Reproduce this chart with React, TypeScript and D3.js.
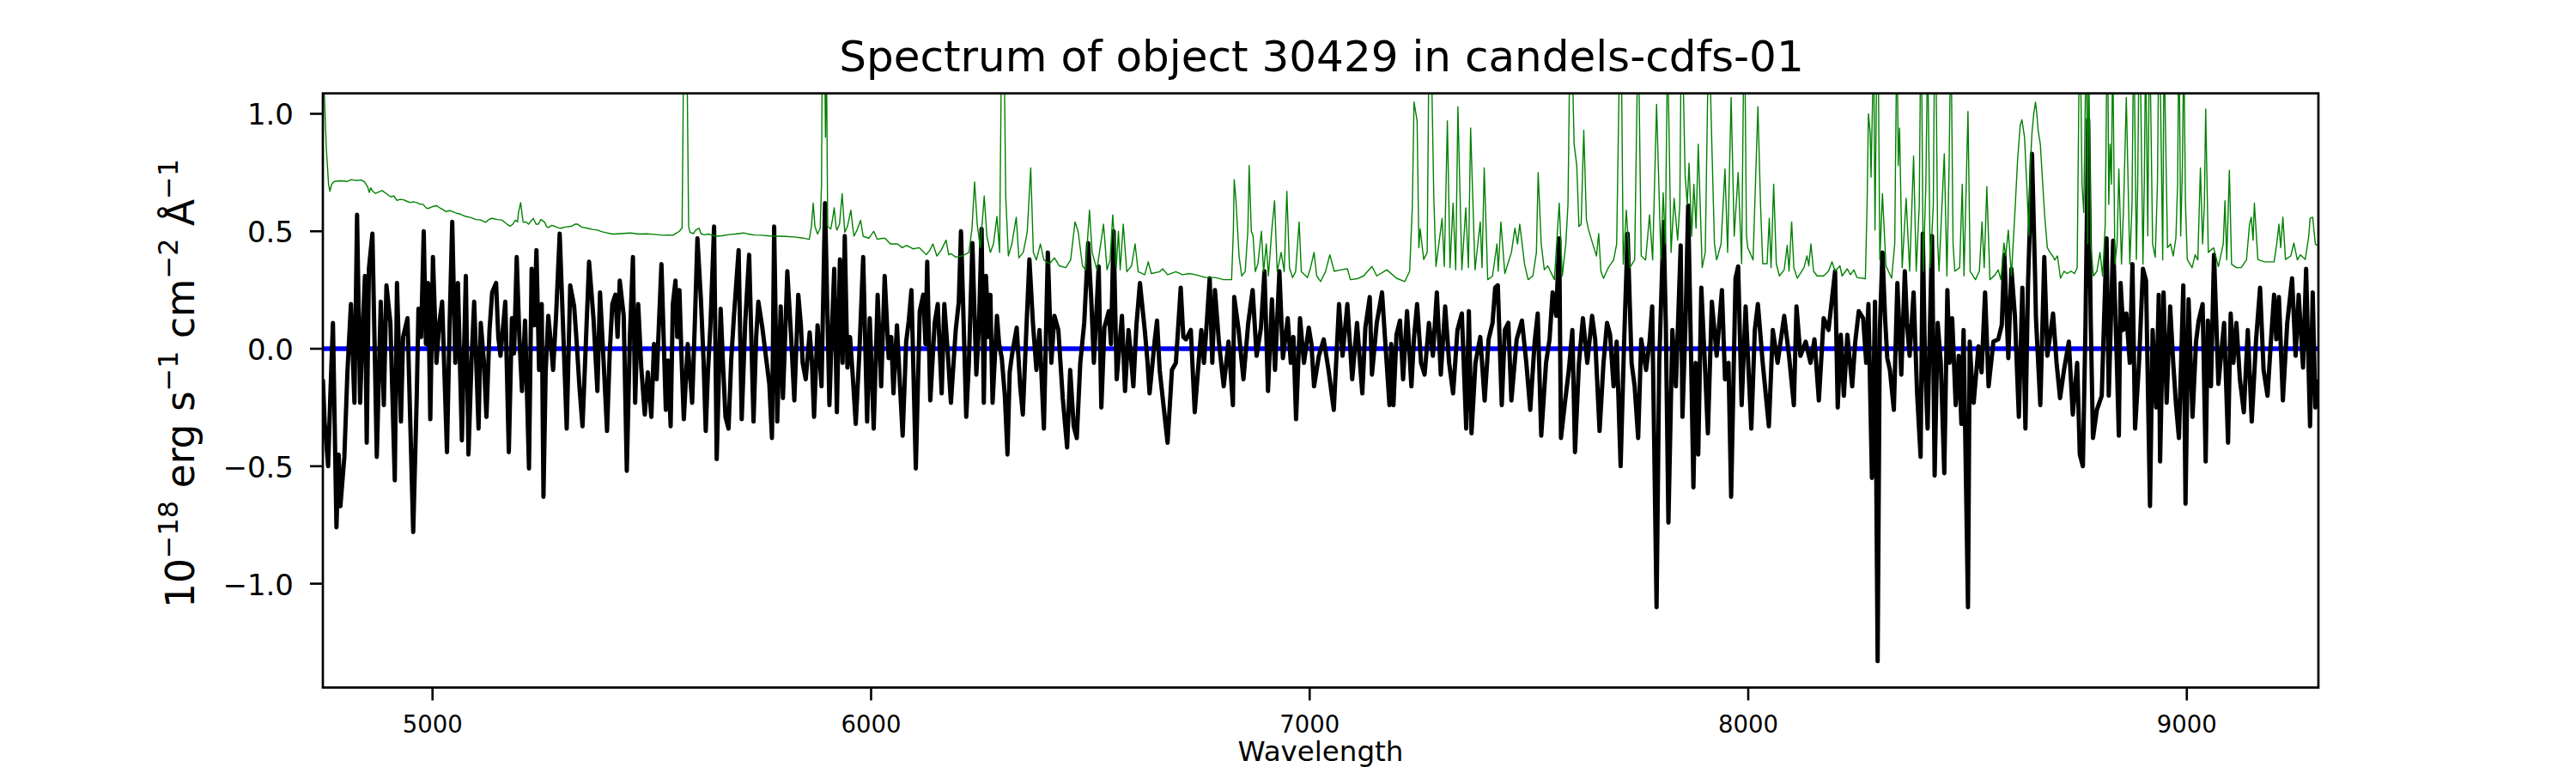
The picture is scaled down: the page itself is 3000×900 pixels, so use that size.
import React from "react";
import * as d3 from "d3";

// ---- data ----
const title = "Spectrum of object 30429 in candels-cdfs-01";
const xLabel = "Wavelength";
const xDomain: [number, number] = [4750, 9300];
const yDomain: [number, number] = [-1.442, 1.087];
const xTicks = [5000, 6000, 7000, 8000, 9000];
const yTicks = [-1, -0.5, 0, 0.5, 1];

// zero / model level (blue)
const modelPoints: [number, number][] = [[4750, 0], [9300, 0]];

// object flux (black), [wavelength, flux]
const fluxPoints: [number, number][] = [
[4750,-.13],[4754,-.31],[4762,-.5],[4767,-.2],[4773,.11],[4781,-.76],[4786,-.45],[4790,-.67],[4799,-.46],[4806,-.1],[4814,.19],[4822,-.23],[4828,.57],[4835,-.23],[4840,.05],[4846,.31],[4850,-.4],[4855,.34],[4863,.49],[4873,-.46],[4882,.2],[4889,-.24],[4895,.27],[4904,.11],[4914,-.56],[4919,.28],[4928,-.31],[4933,.05],[4943,.13],[4956,-.78],[4964,-.21],[4968,.17],[4974,.05],[4980,.5],[4985,.02],[4990,.28],[4995,-.3],
[5001,.39],[5009,-.06],[5015,.1],[5022,.2],[5033,-.44],[5039,.1],[5045,.54],[5052,-.06],[5058,.28],[5067,-.39],[5076,.31],[5082,-.45],[5089,-.05],[5095,.2],[5105,-.34],[5110,.11],[5117,-.05],[5123,-.29],[5130,.08],[5136,.24],[5145,.28],[5150,.05],[5155,-.03],[5166,.2],[5174,-.44],[5181,.13],[5186,-.02],[5192,.39],[5198,.05],[5204,-.18],[5211,.12],[5220,-.51],[5226,.34],[5232,.1],[5237,.42],[5243,-.09],[5249,.19],[5253,-.63],[5258,-.1],[5264,.14],[5270,.02],[5275,-.09],[5282,.15],[5290,.49],[5297,.13],[5306,-.34],[5314,.27],[5323,.18],[5329,.02],[5335,-.16],[5342,-.33],[5350,.04],[5357,.37],[5367,.13],[5376,-.18],[5382,.24],[5390,-.05],[5398,-.35],[5404,-.02],[5410,.19],[5417,.23],[5422,.05],[5427,.29],[5436,.14],[5443,-.52],[5450,.05],[5457,.39],[5462,-.23],[5469,.19],[5476,-.08],[5484,-.28],[5491,-.1],[5499,-.29],
[5505,.02],[5511,-.13],[5522,.36],[5532,-.26],[5537,-.05],[5543,-.33],[5548,.19],[5554,.29],[5558,.05],[5563,.25],[5568,-.05],[5573,-.3],[5582,.02],[5592,-.23],[5598,.1],[5604,.47],[5612,.21],[5618,-.05],[5623,-.35],[5628,-.1],[5634,.11],[5642,.52],[5648,-.47],[5657,.17],[5662,-.05],[5668,-.29],[5675,-.34],[5681,-.05],[5687,.13],[5698,.42],[5705,-.3],[5713,.11],[5722,.4],[5732,-.31],[5738,.05],[5743,.2],[5752,.09],[5762,-.06],[5768,-.15],[5774,-.38],[5779,.52],[5786,-.31],[5794,.18],[5799,-.21],[5804,.05],[5809,.33],[5818,.04],[5825,-.22],[5834,.23],[5840,.1],[5844,-.06],[5851,-.13],[5860,.07],[5865,-.05],[5870,-.29],[5878,.1],[5887,-.16],[5895,.62],[5905,-.24],[5910,.05],[5916,.34],[5922,-.27],[5929,.38],[5935,-.06],[5940,.48],[5946,-.08],[5952,.05],[5958,-.11],[5965,-.32],[5973,-.03],[5982,.39],[5991,-.31],[5997,.13],
[6006,-.34],[6015,.23],[6023,-.16],[6031,.31],[6040,-.04],[6046,.05],[6051,-.19],[6059,.1],[6066,-.16],[6072,-.37],[6080,.03],[6086,.12],[6092,.25],[6102,-.51],[6111,.16],[6119,.23],[6124,.02],[6128,.37],[6135,-.22],[6145,.11],[6152,.19],[6161,-.19],[6167,.19],[6175,-.02],[6182,-.23],[6193,.08],[6200,.2],[6205,.5],[6210,.18],[6217,-.29],[6223,-.06],[6231,.45],[6240,-.11],[6246,.1],[6252,.51],[6257,-.23],[6262,.31],[6268,.05],[6272,.23],[6277,-.23],[6287,.14],[6292,.02],[6298,-.04],[6305,-.2],[6311,-.45],[6316,-.1],[6321,-.03],[6332,.09],[6340,-.16],[6346,-.28],[6354,.08],[6361,.38],[6369,.11],[6377,-.09],[6384,.08],[6394,-.34],[6403,.41],[6411,-.06],[6418,.14],[6427,.08],[6437,-.21],[6447,-.42],[6454,-.09],[6462,-.33],[6469,-.38],[6477,-.06],[6486,.11],[6495,.45],
[6502,.21],[6508,-.06],[6519,.35],[6525,-.25],[6532,.09],[6542,.16],[6547,.02],[6553,.5],[6560,-.13],[6572,.14],[6579,-.18],[6587,.08],[6592,-.02],[6598,-.16],[6605,.1],[6613,.28],[6624,.08],[6630,-.05],[6635,-.19],[6647,.04],[6652,.12],[6658,-.09],[6669,-.28],[6676,-.4],[6686,-.09],[6695,-.06],[6706,.26],[6712,.05],[6718,.04],[6729,.08],[6738,-.27],[6748,-.03],[6753,.08],[6759,-.06],[6765,.1],[6772,.3],[6778,-.06],[6784,.25],[6793,.03],[6804,-.16],[6815,.03],[6825,-.24],[6828,.22],[6838,.08],[6849,-.13],[6860,.11],[6870,.25],[6879,-.03],[6889,.09],[6897,.33],[6905,-.18],[6914,.21],[6921,-.09],[6931,.33],[6939,-.04],[6950,.13],[6957,-.06],[6963,.05],[6969,-.3],[6978,.13],[6987,-.06],[6998,.09],
[7004,.02],[7010,-.16],[7021,-.03],[7032,.04],[7043,-.09],[7055,-.26],[7067,.19],[7075,-.03],[7086,.19],[7097,-.13],[7108,.11],[7120,-.19],[7127,.09],[7137,.22],[7142,-.11],[7153,.11],[7165,.24],[7172,.04],[7182,-.24],[7186,.02],[7191,-.24],[7198,.06],[7206,.12],[7213,-.13],[7222,.16],[7232,-.16],[7238,.05],[7245,.19],[7254,-.06],[7262,-.11],[7272,.11],[7281,-.03],[7290,.24],[7299,-.11],[7309,.18],[7318,-.06],[7327,-.19],[7337,.08],[7347,.15],[7357,-.34],[7363,.16],[7369,-.36],[7378,-.06],[7389,.05],[7399,-.22],[7408,.04],[7417,.11],[7423,.26],[7429,.27],[7438,-.24],[7445,.08],[7453,.11],[7460,-.22],[7472,.04],[7484,.12],[7494,-.06],
[7503,-.26],[7513,.03],[7520,.15],[7528,-.37],[7539,-.06],[7547,.04],[7554,.24],[7562,.14],[7569,.47],[7573,-.38],[7582,-.23],[7591,-.09],[7599,.08],[7605,-.44],[7614,-.06],[7623,.13],[7633,-.06],[7644,.14],[7651,.04],[7661,-.35],[7670,-.06],[7678,.11],[7685,.06],[7693,-.16],[7700,.03],[7709,-.5],[7717,.03],[7725,.49],[7734,-.06],[7741,-.16],[7749,-.38],[7756,.04],[7767,-.09],[7775,.03],[7781,.18],[7791,-1.1],[7797,-.06],[7807,.54],[7812,.11],[7818,-.74],[7827,.08],[7835,-.16],[7846,.44],[7850,-.29],[7857,.11],[7863,.61],[7869,.03],[7875,-.59],[7880,-.06],[7886,-.45],[7893,.26],[7901,-.06],[7908,-.36],[7917,.2],[7928,-.03],[7940,.25],[7947,-.13],[7955,-.06],[7961,-.63],[7971,.3],[7977,.35],[7985,-.24],[7994,.18],
[8007,-.34],[8015,.08],[8022,.19],[8033,-.06],[8047,-.33],[8056,.08],[8067,-.06],[8082,.14],[8093,-.03],[8104,-.24],[8110,.18],[8119,-.03],[8131,.03],[8142,-.06],[8151,.04],[8161,-.22],[8172,.13],[8183,.08],[8198,.33],[8204,-.25],[8211,.06],[8218,-.2],[8226,.06],[8237,-.16],[8244,.03],[8252,.16],[8262,.13],[8269,-.06],[8274,.19],[8282,-.55],[8289,.2],[8295,-1.33],[8300,.08],[8306,.41],[8312,.13],[8317,-.04],[8323,-.09],[8332,-.26],[8340,.28],[8349,-.11],[8357,.33],[8362,.11],[8368,-.03],[8377,.24],[8385,-.19],[8393,-.46],[8398,.49],[8403,-.06],[8409,-.34],[8419,.48],[8425,-.54],[8432,.11],[8439,-.06],[8447,-.53],[8454,.25],[8459,-.06],[8465,.13],[8473,-.24],[8480,-.03],[8486,-.32],[8491,.08],
[8501,-1.1],[8505,.03],[8510,-.14],[8514,-.23],[8525,.01],[8532,-.1],[8540,.24],[8548,-.16],[8559,.03],[8570,.04],[8578,.1],[8584,.4],[8593,-.04],[8600,.34],[8608,.14],[8617,-.29],[8625,.26],[8632,-.34],[8638,.28],[8647,.83],[8654,.31],[8656,.13],[8666,-.24],[8675,.39],[8682,-.03],[8695,.15],[8703,-.06],[8711,-.21],[8720,-.09],[8731,.03],[8740,-.28],[8750,-.06],[8756,-.45],[8763,-.5],[8769,.11],[8775,.975],[8781,.11],[8786,-.38],[8795,-.26],[8806,-.2],[8817,.47],[8822,-.2],[8832,.46],[8840,-.03],[8845,-.37],[8849,.28],[8855,.08],[8862,.15],[8870,-.06],[8876,.36],[8882,-.34],[8891,-.06],[8900,.34],[8907,.29],[8916,-.67],[8922,.08],[8930,-.25],[8936,.23],[8939,-.48],[8947,.24],[8954,-.23],[8962,.18],[8969,-.06],[8975,-.23],[8982,-.38],[8992,.27],[8997,-.66],
[9004,.21],[9013,-.29],[9021,.03],[9027,.12],[9036,.19],[9043,-.48],[9048,.12],[9055,-.16],[9062,.4],[9072,-.15],[9085,.11],[9094,-.4],[9100,.15],[9106,-.06],[9113,.11],[9121,-.13],[9130,-.27],[9139,.08],[9148,-.31],[9158,.04],[9167,.26],[9175,-.09],[9184,-.2],[9192,.04],[9199,.23],[9204,.04],[9210,.22],[9219,-.22],[9229,.11],[9240,.3],[9248,-.03],[9255,.23],[9265,-.08],[9272,.34],[9281,-.33],[9287,.24],[9293,-.25],[9298,-.13]
];

// noise / error spectrum (green), [wavelength, value]
const errorPoints: [number, number][] = [
[4750,1.35],[4753,1.1],[4758,.85],[4763,.7],[4766,.67],[4770,.7],[4776,.712],[4790,.715],[4805,.712],[4815,.72],[4825,.716],[4838,.718],[4845,.71],[4852,.69],[4856,.665],[4859,.685],[4864,.67],[4870,.661],[4878,.668],[4885,.673],[4895,.66],[4904,.647],[4912,.65],[4919,.631],[4926,.636],[4934,.634],[4941,.628],[4949,.622],[4956,.626],[4964,.622],[4971,.616],[4979,.614],[4985,.6],[4990,.597],
[5000,.605],[5009,.609],[5018,.598],[5031,.584],[5040,.588],[5054,.577],[5062,.574],[5076,.563],[5088,.558],[5099,.55],[5110,.548],[5121,.538],[5130,.552],[5136,.555],[5148,.55],[5159,.547],[5170,.53],[5177,.521],[5183,.53],[5189,.547],[5194,.54],[5196,.58],[5201,.622],[5205,.56],[5207,.538],[5213,.54],[5219,.53],[5225,.545],[5230,.555],[5236,.53],[5241,.53],[5247,.55],[5256,.538],[5260,.52],[5264,.516],[5272,.525],[5279,.521],[5286,.515],[5293,.513],[5302,.518],[5316,.521],[5325,.53],[5331,.53],[5340,.518],[5353,.513],[5365,.508],[5376,.505],[5387,.498],[5398,.493],[5405,.49],[5413,.488],[5430,.49],[5451,.493],[5470,.488],[5488,.489],
[5505,.487],[5526,.483],[5540,.484],[5548,.483],[5556,.492],[5563,.5],[5567,.51],[5569,.513],[5571,.9],[5573,1.5],[5576,1.8],[5579,1.5],[5582,.9],[5584,.52],[5587,.496],[5595,.49],[5600,.505],[5608,.513],[5612,.49],[5620,.485],[5630,.488],[5645,.479],[5660,.481],[5675,.486],[5690,.488],[5710,.493],[5720,.488],[5735,.484],[5750,.483],[5770,.48],[5788,.479],[5805,.478],[5825,.476],[5842,.472],[5859,.466],[5864,.52],[5868,.62],[5872,.52],[5878,.488],[5884,.513],[5887,.7],[5889,1.4],[5892,1.3],[5894,1.3],[5896,.9],[5898,1.3],[5900,.8],[5901,.52],
[5908,.51],[5912,.55],[5916,.6],[5920,.52],[5922,.505],[5928,.53],[5934,.66],[5938,.55],[5940,.496],[5946,.52],[5954,.59],[5958,.52],[5961,.479],[5968,.505],[5976,.547],[5982,.479],[5995,.47],
[6006,.5],[6014,.466],[6025,.47],[6032,.47],[6044,.446],[6060,.446],[6071,.43],[6081,.44],[6096,.425],[6110,.43],[6126,.4],[6134,.42],[6141,.446],[6150,.395],[6160,.42],[6171,.462],[6177,.4],[6182,.405],[6193,.39],[6208,.395],[6223,.41],[6230,.51],[6236,.71],[6242,.53],[6249,.43],[6258,.65],[6264,.48],[6272,.41],[6279,.446],[6287,.563],[6293,.41],[6298,1.4],[6302,1.5],[6307,.65],[6313,.395],[6321,.446],[6331,.56],[6337,.387],[6347,.41],[6356,.496],[6364,.77],[6370,.41],[6377,.378],[6386,.446],[6394,.378],[6407,.362],[6418,.387],[6429,.353],[6444,.345],[6455,.378],[6465,.54],[6472,.5],[6482,.353],[6489,.336],[6498,.59],
[6504,.41],[6515,.336],[6530,.53],[6538,.336],[6545,.378],[6551,.57],[6559,.345],[6564,.5],[6568,.336],[6575,.53],[6583,.328],[6594,.353],[6602,.446],[6609,.328],[6624,.315],[6632,.37],[6639,.32],[6658,.328],[6665,.34],[6676,.315],[6695,.328],[6710,.315],[6725,.32],[6740,.315],[6763,.303],[6785,.303],[6804,.294],[6822,.294],[6826,.5],[6828,.72],[6832,.63],[6839,.395],[6845,.31],[6853,.328],[6859,.5],[6862,.78],[6867,.5],[6871,.48],[6876,.328],[6882,.362],[6890,.5],[6895,.328],[6901,.446],[6906,.31],[6914,.513],[6920,.63],[6926,.328],[6935,.41],[6942,.328],[6948,.67],[6954,.345],[6961,.303],[6968,.328],[6976,.54],[6981,.328],[6995,.303],
[7002,.345],[7010,.41],[7016,.31],[7025,.286],[7036,.328],[7046,.4],[7056,.33],[7071,.336],[7086,.34],[7093,.294],[7108,.298],[7123,.31],[7142,.35],[7153,.31],[7176,.336],[7198,.3],[7217,.286],[7228,.33],[7234,.6],[7238,1.05],[7245,.97],[7249,.43],[7252,.51],[7260,.38],[7268,.41],[7273,1.5],[7277,1.3],[7283,.65],[7288,.35],[7302,.555],[7307,.35],[7314,.97],[7320,.345],[7327,.62],[7333,.336],[7338,1.03],[7347,.336],[7356,.6],[7362,.345],[7367,.94],[7377,.336],[7389,.54],[7393,.345],[7398,.77],[7406,.294],[7417,.31],[7427,.446],[7430,.33],[7436,.54],[7445,.32],[7460,.41],[7468,.513],[7474,.446],[7479,.53],[7490,.36],[7498,.294],
[7509,.31],[7517,.41],[7521,.75],[7528,.446],[7535,.336],[7543,.353],[7558,.294],[7569,.62],[7576,.31],[7584,.446],[7589,.614],[7594,1.4],[7599,1.2],[7603,.87],[7609,.78],[7614,.52],[7619,.53],[7625,.93],[7631,.55],[7636,.505],[7648,.43],[7654,.395],[7659,.49],[7664,.33],[7670,.3],[7681,.345],[7693,.378],[7700,.446],[7707,1.3],[7711,1.2],[7715,.36],[7722,.59],[7730,.345],[7741,.378],[7749,1.4],[7756,.395],[7766,.378],[7775,.57],[7782,.378],[7791,1.04],[7801,.378],[7806,.664],[7811,.446],[7816,1.3],[7824,.41],[7831,.64],[7839,.462],[7844,.614],[7848,1.5],[7856,.74],[7861,.614],[7865,.79],[7871,.479],[7876,.7],[7881,.513],[7886,.87],[7895,.345],[7902,.41],[7910,1.4],[7917,.87],[7923,.446],[7928,.378],[7938,.446],[7947,.765],[7953,.41],[7961,1.07],[7968,.479],[7977,.75],[7985,.362],[7991,1.5],[7996,.479],[7999,.43],
[8011,.378],[8022,1.03],[8028,.614],[8033,.362],[8043,.362],[8048,.555],[8052,.345],[8058,.7],[8064,.362],[8071,.31],[8082,.336],[8089,.44],[8093,.33],[8099,.54],[8104,.345],[8112,.3],[8127,.345],[8134,.395],[8138,.353],[8143,.446],[8149,.33],[8157,.31],[8172,.31],[8183,.33],[8191,.37],[8198,.33],[8209,.353],[8214,.31],[8226,.34],[8233,.315],[8241,.336],[8248,.303],[8267,.298],[8271,.614],[8274,1.0],[8278,.92],[8280,.73],[8286,1.3],[8289,.505],[8295,1.6],[8300,.378],[8306,.66],[8314,.353],[8327,.3],[8334,.446],[8339,1.4],[8342,.78],[8345,.94],[8351,.345],[8360,.64],[8368,.33],[8377,.82],[8383,.33],[8390,.614],[8394,1.5],[8399,.33],[8405,.7],[8409,1.3],[8415,.345],[8422,.614],[8426,1.6],[8432,.446],[8435,.33],[8447,.83],[8453,.31],[8458,.78],[8462,1.4],[8467,.446],[8471,.33],[8482,.345],[8488,.7],[8492,.31],
[8501,1.01],[8506,.33],[8518,.294],[8527,.33],[8533,.54],[8538,.345],[8544,.69],[8551,.294],[8563,.315],[8570,.336],[8576,.294],[8583,.45],[8587,.395],[8593,.505],[8600,.31],[8608,.58],[8614,.8],[8620,.95],[8624,.975],[8630,.9],[8635,.7],[8640,.48],[8643,.78],[8647,.92],[8651,1.0],[8655,1.05],[8658,1.0],[8661,.93],[8666,.87],[8671,.715],[8676,.563],[8682,.43],[8688,.41],[8694,.395],[8699,.378],[8705,.395],[8712,.3],[8720,.33],[8727,.32],[8736,.33],[8744,.32],[8750,.345],[8756,1.5],[8761,.7],[8765,.58],[8771,1.4],[8774,.446],[8776,1.3],[8781,.446],[8787,.31],[8795,.33],[8802,.41],[8808,.31],[8814,.53],[8819,1.5],[8822,.614],[8825,.87],[8828,.7],[8831,1.3],[8836,.36],[8841,.446],[8845,.765],[8851,.36],[8856,.614],[8862,1.07],[8870,.36],[8875,.614],[8879,1.4],[8885,.38],[8888,.7],[8892,1.5],[8900,.36],[8903,.7],[8906,1.3],[8911,.48],[8915,1.4],[8922,.446],[8928,.39],[8933,.7],[8937,1.5],[8945,.378],[8948,1.3],[8956,.43],[8963,.446],[8969,.395],[8975,.47],[8979,.7],[8982,1.4],[8986,.48],[8990,.78],[8993,1.3],[8997,.614],
[9001,.38],[9012,.345],[9019,.4],[9025,.378],[9031,.77],[9036,.446],[9040,.614],[9043,1.02],[9049,.41],[9061,.43],[9072,.35],[9083,.446],[9087,.63],[9091,.378],[9097,.76],[9102,.36],[9113,.345],[9124,.345],[9136,.378],[9143,.53],[9147,.56],[9151,.462],[9154,.62],[9162,.38],[9177,.37],[9199,.37],[9205,.446],[9210,.53],[9214,.43],[9219,.56],[9225,.38],[9237,.395],[9244,.45],[9252,.378],[9259,.4],[9270,.38],[9278,.479],[9281,.555],[9287,.56],[9293,.445],[9298,.44]
];

// ---- layout ----
const W = 3000;
const H = 900;
const LEFT = 376;
const RIGHT = 2700;
const TOP = 108.7;
const BOTTOM = 800.5;
const FONT = "'DejaVu Sans', sans-serif";

export default function App() {
  const x = d3.scaleLinear().domain(xDomain).range([LEFT, RIGHT]);
  const y = d3.scaleLinear().domain(yDomain).range([BOTTOM, TOP]);
  const line = d3
    .line<[number, number]>()
    .x((d) => x(d[0]))
    .y((d) => y(d[1]));
  const fmtY = d3.format(".1f");

  const supSize = 31.9;
  const supDy = 19.5;

  return (
    <svg
      width={W}
      height={H}
      viewBox={`0 0 ${W} ${H}`}
      style={{ position: "absolute", left: 0, top: 0, background: "#fff" }}
      fontFamily={FONT}
    >
      <defs>
        <clipPath id="plotArea">
          <rect x={LEFT} y={TOP} width={RIGHT - LEFT} height={BOTTOM - TOP} />
        </clipPath>
      </defs>
      <rect x={0} y={0} width={W} height={H} fill="#fff" />

      <g clipPath="url(#plotArea)">
        <path d={line(modelPoints) || ""} fill="none" stroke="#0000ff" strokeWidth={5.5} />
        <path
          d={line(fluxPoints) || ""}
          fill="none"
          stroke="#000"
          strokeWidth={5}
          strokeLinejoin="round"
        />
        <path
          d={line(errorPoints) || ""}
          fill="none"
          stroke="#008000"
          strokeWidth={1.4}
          strokeLinejoin="round"
        />
      </g>

      {/* spines */}
      <rect
        x={LEFT}
        y={TOP}
        width={RIGHT - LEFT}
        height={BOTTOM - TOP}
        fill="none"
        stroke="#000"
        strokeWidth={2.7}
      />

      {/* x ticks */}
      {xTicks.map((t) => (
        <g key={"x" + t}>
          <line x1={x(t)} x2={x(t)} y1={BOTTOM} y2={BOTTOM + 15} stroke="#000" strokeWidth={2.6} />
          <text x={x(t)} y={852.7} fontSize={27.5} textAnchor="middle" fill="#000">
            {String(t)}
          </text>
        </g>
      ))}

      {/* y ticks */}
      {yTicks.map((t) => (
        <g key={"y" + t}>
          <line x1={LEFT - 15} x2={LEFT} y1={y(t)} y2={y(t)} stroke="#000" strokeWidth={2.6} />
          <text x={342} y={y(t) + 13} fontSize={34} textAnchor="end" fill="#000">
            {fmtY(t)}
          </text>
        </g>
      ))}

      {/* title */}
      <text x={(LEFT + RIGHT) / 2 + 1} y={83.3} fontSize={50} textAnchor="middle" fill="#000">
        {title}
      </text>

      {/* x label */}
      <text x={(LEFT + RIGHT) / 2} y={886} fontSize={32.5} textAnchor="middle" fill="#000">
        {xLabel}
      </text>

      {/* y label */}
      <text
        transform={`translate(226,446.5) rotate(-90)`}
        fontSize={45.5}
        textAnchor="middle"
        fill="#000"
        style={{ whiteSpace: "pre" }}
      >
        <tspan>10</tspan>
        <tspan fontSize={supSize} dy={-supDy}>{"\u221218"}</tspan>
        <tspan dy={supDy}>{" erg s"}</tspan>
        <tspan fontSize={supSize} dy={-supDy}>{"\u22121"}</tspan>
        <tspan dy={supDy}>{" cm"}</tspan>
        <tspan fontSize={supSize} dy={-supDy}>{"\u22122"}</tspan>
        <tspan dy={supDy}>{" \u00C5"}</tspan>
        <tspan fontSize={supSize} dy={-supDy}>{"\u22121"}</tspan>
      </text>
    </svg>
  );
}
